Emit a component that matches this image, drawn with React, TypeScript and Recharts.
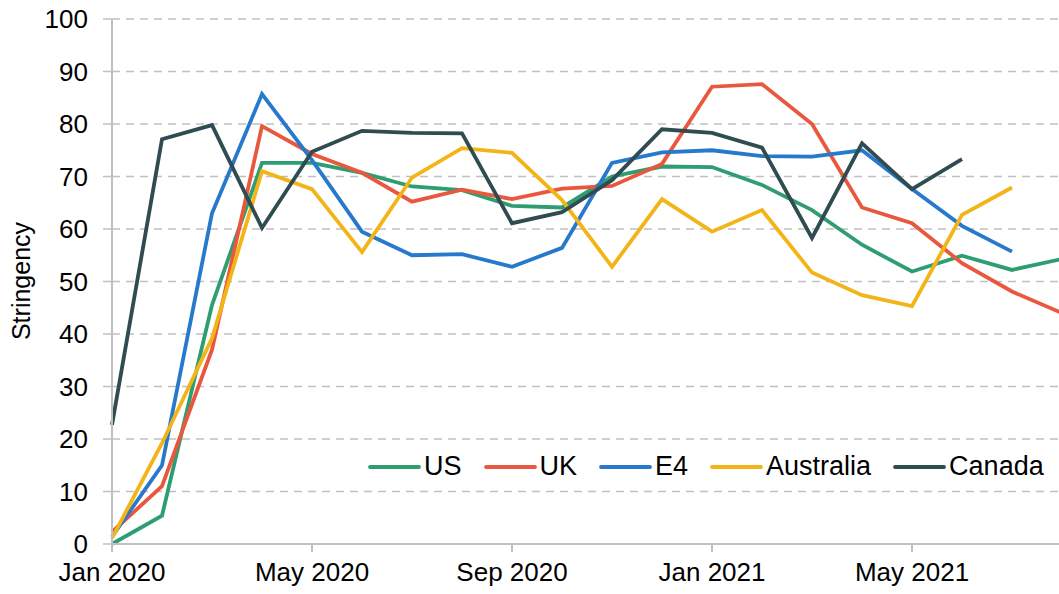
import React from 'react';
import { LineChart, Line, XAxis, YAxis, CartesianGrid, Legend } from 'recharts';

const months = [
  'Jan 2020', 'Feb 2020', 'Mar 2020', 'Apr 2020', 'May 2020', 'Jun 2020', 'Jul 2020', 'Aug 2020',
  'Sep 2020', 'Oct 2020', 'Nov 2020', 'Dec 2020', 'Jan 2021', 'Feb 2021', 'Mar 2021', 'Apr 2021',
  'May 2021', 'Jun 2021', 'Jul 2021', 'Aug 2021',
];

const us = [0, 5.4, 45.5, 72.6, 72.6, 70.7, 68.1, 67.4, 64.4, 64.1, 70.0, 71.9, 71.8, 68.4, 63.6, 57.0, 51.9, 54.9, 52.2, 54.3];
const uk = [2.3, 11.0, 37.0, 79.6, 74.3, 70.7, 65.2, 67.5, 65.7, 67.7, 68.2, 72.4, 87.1, 87.6, 80.0, 64.1, 61.1, 53.5, 48.1, 44.0];
const e4 = [1.4, 15.0, 63.0, 85.7, 73.1, 59.5, 55.0, 55.2, 52.8, 56.4, 72.6, 74.6, 75.0, 73.9, 73.8, 75.0, 67.6, 60.6, 55.7, null];
const australia = [1.1, 19.2, 39.2, 71.0, 67.6, 55.6, 69.8, 75.4, 74.5, 65.5, 52.8, 65.7, 59.5, 63.6, 51.7, 47.4, 45.3, 62.7, 67.9, null];
const canada = [22.7, 77.1, 79.8, 60.2, 74.7, 78.7, 78.3, 78.2, 61.1, 63.2, 69.3, 79.0, 78.3, 75.5, 58.3, 76.3, 67.6, 73.3, null, null];

const xTicks = [0, 4, 8, 12, 16];
const yTicks = [0, 10, 20, 30, 40, 50, 60, 70, 80, 90, 100];

const seriesDefs = [
  { key: 'US', values: us, color: '#2E9E72' },
  { key: 'UK', values: uk, color: '#E9583E' },
  { key: 'E4', values: e4, color: '#2779CB' },
  { key: 'Australia', values: australia, color: '#F3B418' },
  { key: 'Canada', values: canada, color: '#2F4C51' },
];

const data = months.map((m, i) => {
  const row: any = { i, month: m };
  seriesDefs.forEach((s) => {
    row[s.key] = s.values[i];
  });
  return row;
});

const FONT = '"Liberation Sans", Arial, sans-serif';
const GRID = '#C0C0C0';

const LegendContent = () => (
  <div style={{ display: 'flex', alignItems: 'center', fontFamily: FONT, fontSize: 27, color: '#000', whiteSpace: 'nowrap' }}>
    {seriesDefs.map((s) => (
      <div key={s.key} style={{ display: 'flex', alignItems: 'center', marginRight: 22 }}>
        <svg width={53} height={6} style={{ display: 'block' }}>
          <line x1={2} y1={3} x2={51} y2={3} stroke={s.color} strokeWidth={3.8} strokeLinecap="round" />
        </svg>
        <span style={{ marginLeft: 3 }}>{s.key}</span>
      </div>
    ))}
  </div>
);

const YLabel = () => (
  <text
    transform="translate(30,281) rotate(-90)"
    x={0}
    y={0}
    textAnchor="middle"
    fontFamily={FONT}
    fontSize={25}
    fill="#000"
  >
    Stringency
  </text>
);

export default function App() {
  return (
    <div style={{ position: 'absolute', left: 0, top: 0, width: 1059, height: 594, overflow: 'hidden', background: '#fff' }}>
      <LineChart
        width={1070}
        height={594}
        data={data}
        margin={{ top: 19, right: 8, bottom: 0, left: 0 }}
      >
        <CartesianGrid horizontal vertical={false} stroke={GRID} strokeWidth={1.5} strokeDasharray="8 6" />
        <XAxis
          dataKey="i"
          type="number"
          domain={[0, 19]}
          ticks={xTicks}
          tickFormatter={(v: number) => months[v]}
          height={50}
          interval={0}
          axisLine={{ stroke: GRID, strokeWidth: 2 }}
          tickLine={{ stroke: GRID, strokeWidth: 2 }}
          tickSize={8}
          tickMargin={11}
          tick={{ fill: '#000', fontSize: 26, fontFamily: FONT }}
        />
        <YAxis
          type="number"
          domain={[0, 100]}
          ticks={yTicks}
          width={112}
          interval={0}
          axisLine={{ stroke: GRID, strokeWidth: 2 }}
          tickLine={{ stroke: GRID, strokeWidth: 1.5 }}
          tickSize={9}
          tickMargin={15}
          tick={{ fill: '#000', fontSize: 26, fontFamily: FONT }}
          label={<YLabel />}
        />
        <Legend
          layout="horizontal"
          verticalAlign="middle"
          align="center"
          content={<LegendContent />}
          wrapperStyle={{ left: 368, top: 451, width: 'auto' }}
        />
        {seriesDefs.map((s) => (
          <Line
            key={s.key}
            type="linear"
            dataKey={s.key}
            stroke={s.color}
            strokeWidth={3.8}
            dot={false}
            activeDot={false}
            isAnimationActive={false}
          />
        ))}
      </LineChart>
    </div>
  );
}
